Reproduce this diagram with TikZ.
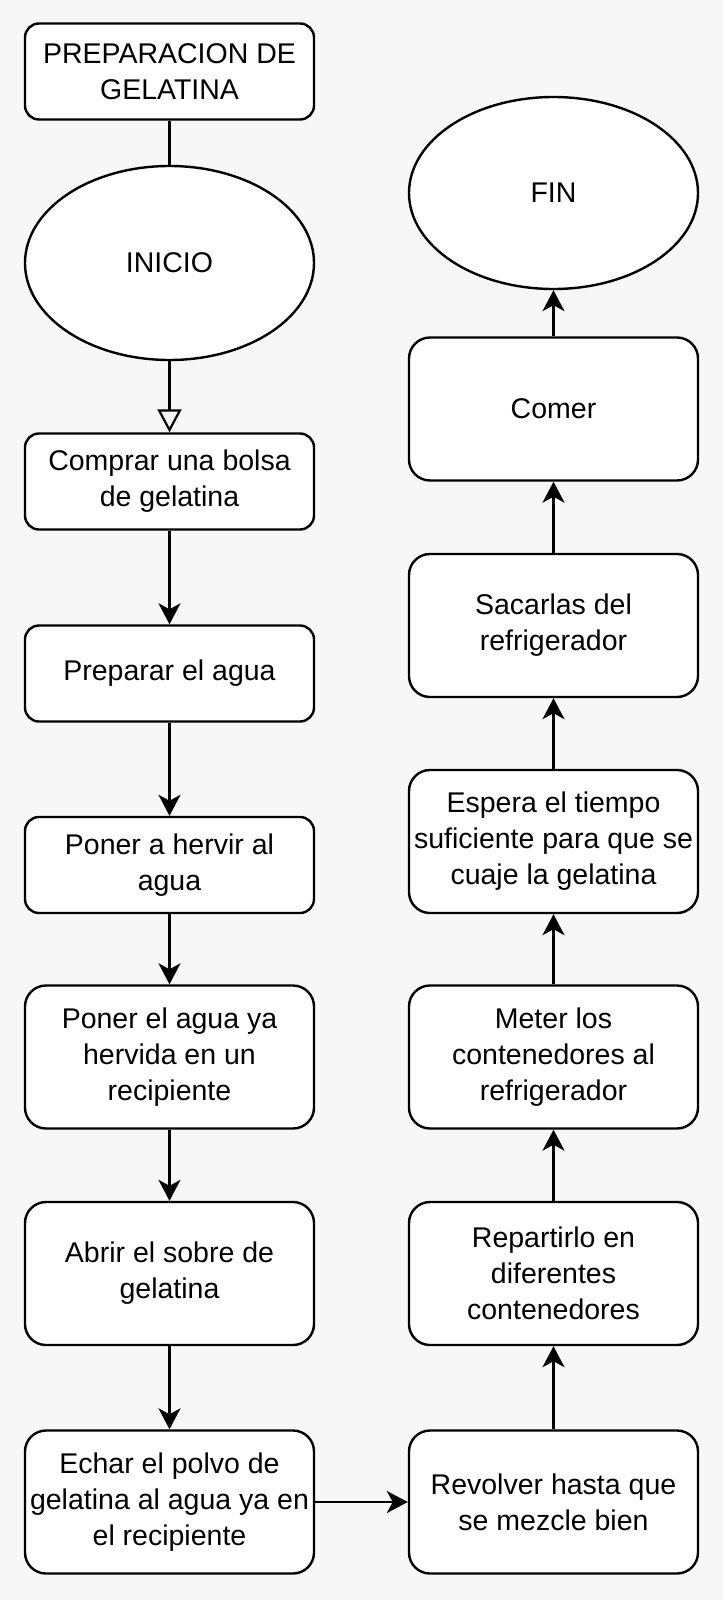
\documentclass[tikz,border=0pt]{standalone}
\usepackage{fontspec}
\setmainfont{Liberation Sans}
\usetikzlibrary{arrows.meta,shapes.geometric}
\definecolor{bgc}{HTML}{F7F7F7}
\tikzset{
  base/.style={draw=black, line width=2.4pt, fill=white, inner sep=0pt, align=center,
    minimum width=289pt, font=\fontsize{28.5}{36}\selectfont},
  shortbox/.style={base, rectangle, rounded corners=14pt, minimum height=96pt},
  tallbox/.style={base, rectangle, rounded corners=21pt, minimum height=143pt},
  oval/.style={base, ellipse, minimum height=194pt},
  arr/.style={line width=2.2pt, -{Stealth[length=21pt, width=22pt, inset=6pt]}},
  openarr/.style={line width=2.2pt, -{Triangle[open, length=23pt, width=24pt]}},
  plain/.style={line width=2.2pt}
}
\begin{document}
\begin{tikzpicture}[x=1pt,y=-1pt]
\fill[bgc] (0,0) rectangle (723,1600);
\useasboundingbox (0,0) rectangle (723,1600);
% left column
\node[shortbox] (title) at (169.5,71.5) {PREPARACION DE\\GELATINA};
\node[oval] (inicio) at (169.5,263) {INICIO};
\node[shortbox] (comprar) at (169.5,481.5) {Comprar una bolsa\\de gelatina};
\node[shortbox] (preparar) at (169.5,673.5) {Preparar el agua};
\node[shortbox] (hervir) at (169.5,865) {Poner a hervir al\\agua};
\node[tallbox] (poner) at (169.5,1057) {Poner el agua ya\\hervida en un\\recipiente};
\node[tallbox] (abrir) at (169.5,1273.5) {Abrir el sobre de\\gelatina};
\node[tallbox] (echar) at (169.5,1502) {Echar el polvo de\\gelatina al agua ya en\\el recipiente};
% right column
\node[oval, minimum height=192pt] (fin) at (553.5,193) {FIN};
\node[tallbox] (comer) at (553.5,409) {Comer};
\node[tallbox] (sacar) at (553.5,625.5) {Sacarlas del\\refrigerador};
\node[tallbox] (espera) at (553.5,841.5) {Espera el tiempo\\suficiente para que se\\cuaje la gelatina};
\node[tallbox] (meter) at (553.5,1057) {Meter los\\contenedores al\\refrigerador};
\node[tallbox] (repartir) at (553.5,1273.5) {Repartirlo en\\diferentes\\contenedores};
\node[tallbox] (revolver) at (553.5,1502) {Revolver hasta que\\se mezcle bien};
% connectors
\draw[plain] (title) -- (inicio);
\draw[openarr] (inicio) -- (comprar);
\draw[arr] (comprar) -- (preparar);
\draw[arr] (preparar) -- (hervir);
\draw[arr] (hervir) -- (poner);
\draw[arr] (poner) -- (abrir);
\draw[arr] (abrir) -- (echar);
\draw[arr] (echar) -- (revolver);
\draw[arr] (revolver) -- (repartir);
\draw[arr] (repartir) -- (meter);
\draw[arr] (meter) -- (espera);
\draw[arr] (espera) -- (sacar);
\draw[arr] (sacar) -- (comer);
\draw[arr] (comer) -- (fin);
\end{tikzpicture}
\end{document}
